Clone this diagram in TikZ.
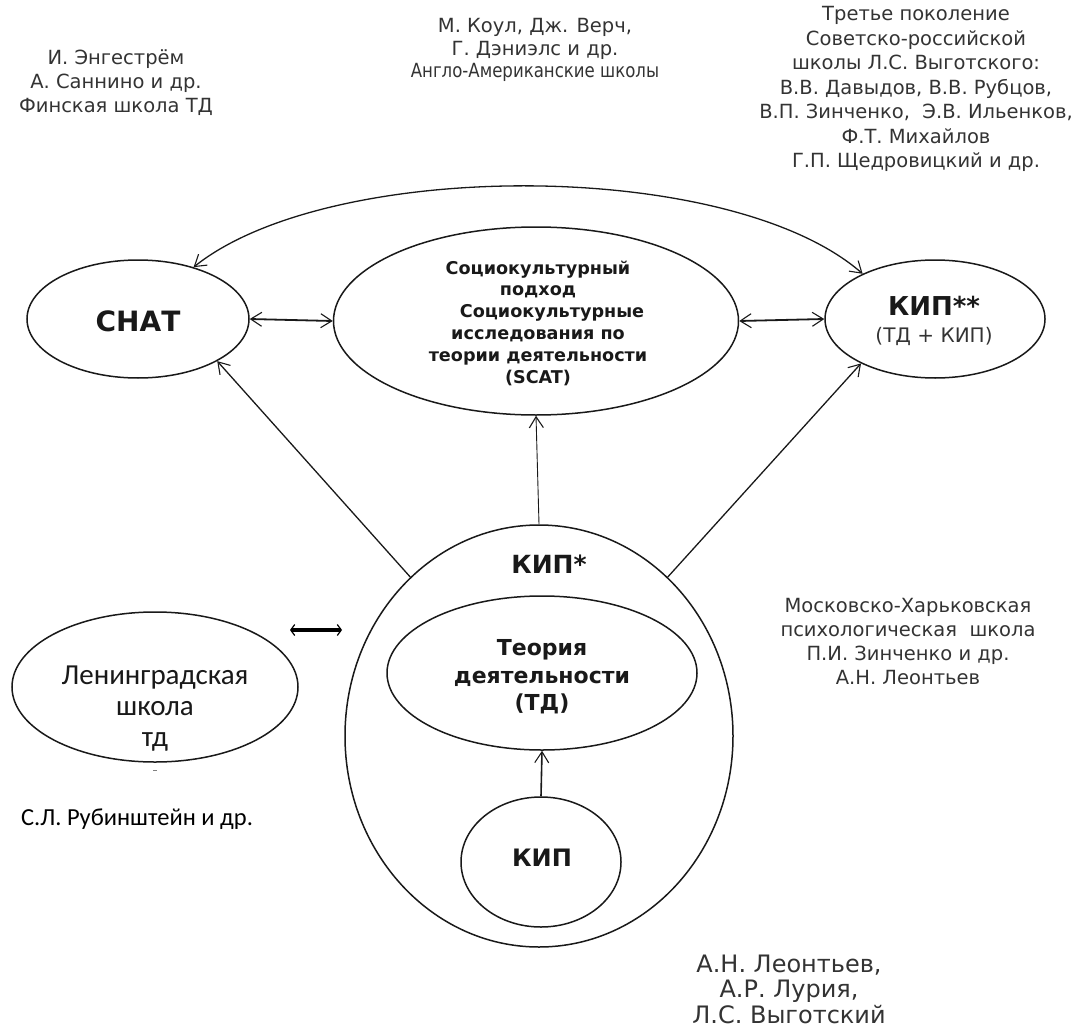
\documentclass[tikz,border=0pt]{standalone}
\usepackage{fontspec}
\setmainfont{DejaVu Sans}
\newfontfamily\calfont{Carlito}
\usetikzlibrary{shapes.geometric,arrows.meta}
\begin{document}
\begin{tikzpicture}[x=1pt,y=-1pt,
  ell/.style={draw=black!90, ellipse, line width=1.5pt, inner sep=0pt},
  tip/.tip={Straight Barb[length=11pt,width=14pt,line width=1.1pt]},
  conn/.style={line width=1.3pt, draw=black!90, -tip},
  dconn/.style={line width=1.8pt, draw=black!90, tip-tip},
  txt/.style={align=center, text=black!80, inner sep=0pt, font=\fontsize{19.5}{24}\selectfont},
  btxt/.style={align=center, text=black!90, inner sep=0pt}
]
\useasboundingbox (0,0) rectangle (1083,1027);

% ellipses
\node[ell, minimum width=222pt, minimum height=118pt] (chat) at (138,319) {};
\node[btxt, font=\fontsize{28}{30}\selectfont\bfseries] (chatt) at (138,321) {СНАТ};

\node[ell, minimum width=405pt, minimum height=188pt] (scat) at (536,321) {};
\node[btxt, font=\fontsize{17.6}{21.8}\selectfont\bfseries] (scatt) at (538,323)
  {Социокультурный\\подход\\\hspace*{28pt}Социокультурные\\исследования по\\теории деятельности\\(SCAT)};

\node[ell, minimum width=220pt, minimum height=118pt] (kip2) at (935,319) {};
\node[btxt, font=\fontsize{26}{30}\selectfont\bfseries] (kip2t) at (934,306) {КИП**};
\node[txt, font=\fontsize{20}{24}\selectfont] (kip2s) at (934,336) {(ТД + КИП)};

\node[ell, minimum width=388pt, minimum height=422pt] (big) at (539,736) {};
\node[btxt, font=\fontsize{25}{28}\selectfont\bfseries] (bigt) at (549,564) {КИП*};

\node[ell, minimum width=310pt, minimum height=154pt] (td) at (542,673) {};
\node[btxt, font=\fontsize{22}{27.5}\selectfont\bfseries] (tdt) at (542,677)
  {Теория\\деятельности\\(ТД)};

\node[ell, minimum width=160pt, minimum height=130pt] (kip) at (541,862) {};
\node[btxt, font=\fontsize{24}{28}\selectfont\bfseries] (kipt) at (542,858) {КИП};

\node[ell, minimum width=286pt, minimum height=150pt] (len) at (155,687) {};
\node[btxt, font=\fontsize{29}{31}\selectfont\calfont] (lent) at (155,709)
  {Ленинградская\\школа\\тд};

% free texts
\node[txt] (tl) at (116,83) {И. Энгестрём\\А. Саннино и др.\\Финская школа ТД};
\node[txt, font=\fontsize{19.5}{22.5}\selectfont] (tm) at (535,50) {М. Коул, Дж. Верч,\\Г. Дэниэлс и др.\\\scalebox{0.85}[1]{Англо-Американские школы}};
\node[txt, font=\fontsize{19.5}{24.5}\selectfont] (tr) at (916,89) {Третье поколение\\Советско-российской\\школы Л.С. Выготского:\\В.В. Давыдов, В.В. Рубцов,\\В.П. Зинченко,\ \ Э.В. Ильенков,\\Ф.Т. Михайлов\\Г.П. Щедровицкий и др.};
\node[txt] (mr) at (908,642) {Московско-Харьковская\\психологическая\ \ школа\\П.И. Зинченко и др.\\А.Н. Леонтьев};
\node[btxt, font=\fontsize{24.5}{28}\selectfont\calfont, text=black] (rub) at (137,819) {С.Л. Рубинштейн и др.};
\node[txt, font=\fontsize{24}{25.5}\selectfont] (bot) at (789,989) {А.Н. Леонтьев,\\А.Р. Лурия,\\Л.С. Выготский};

% stray mark
\coordinate (m1) at (153,770);
\coordinate (m2) at (157,770);
\draw[black!50, line width=1pt] (m1) -- (m2);

% connectors
\draw[dconn] (chat.east) -- (scat.west);
\draw[dconn] (scat.east) -- (kip2.west);
\draw[dconn, line width=1.3pt] (chat.43) .. controls (330,158) and (730,158) .. (kip2.148);
\draw[conn] (big.129) -- (chat.-28);
\draw[conn, line width=0.9pt] (big.north) -- (scat.south);
\draw[conn] (big.51) -- (kip2.211);
\draw[conn, line width=1.6pt] (kip.north) -- (td.south);

\coordinate (l1) at (290,630);
\coordinate (l2) at (342,630);
\draw[line width=4pt, {Straight Barb[length=4pt,width=11pt,line width=1.2pt]}-{Straight Barb[length=4pt,width=11pt,line width=1.2pt]}] (l1) -- (l2);
\end{tikzpicture}
\end{document}
